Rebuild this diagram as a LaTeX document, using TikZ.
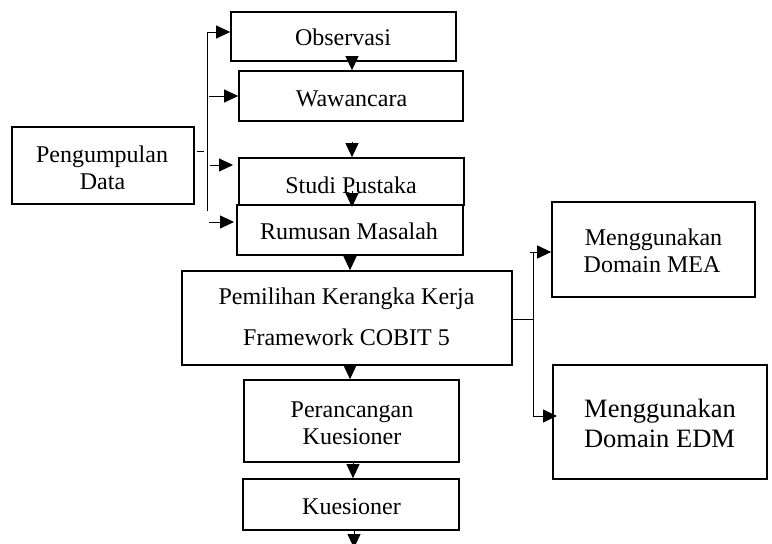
\documentclass[tikz,border=0pt]{standalone}
\usepackage{fontspec}
\setmainfont{Liberation Serif}
\usetikzlibrary{arrows.meta}
\tikzset{
  x=1pt,y=-1pt,
  box/.style={draw,line width=1.7pt,inner sep=0pt,rectangle},
  txt/.style={inner sep=0pt,anchor=base,font=\fontsize{24}{27}\selectfont},
  txtb/.style={inner sep=0pt,anchor=base,font=\fontsize{26.5}{30}\selectfont},
  arr/.style={line width=0.9pt,-{Triangle[width=13pt,length=14pt]}},
  ln/.style={line width=0.9pt}
}
\begin{document}
\begin{tikzpicture}
\useasboundingbox (0,0) rectangle (772,544);
% boxes
\node[box,minimum width=225pt,minimum height=49pt] (obs) at (343.5,36.5) {};
\node[box,minimum width=224pt,minimum height=50pt] (waw) at (351,96) {};
\node[box,minimum width=182pt,minimum height=77pt] (peng) at (103,165.5) {};
\node[box,minimum width=225pt,minimum height=47pt] (studi) at (351.5,181.5) {};
\node[box,minimum width=226pt,minimum height=50pt] (rum) at (350,230) {};
\node[box,minimum width=330pt,minimum height=94pt] (pem) at (347,318) {};
\node[box,minimum width=215pt,minimum height=82pt] (per) at (351.5,421) {};
\node[box,minimum width=216pt,minimum height=51pt] (kue) at (351,504.5) {};
\node[box,minimum width=203pt,minimum height=95pt] (mea) at (653.5,249.5) {};
\node[box,minimum width=214pt,minimum height=114pt] (edm) at (660,422) {};
% texts
\node[txt] (tobs) at (343,45) {Observasi};
\node[txt] (twaw) at (351.5,106) {Wawancara};
\node[txt] (tpeng1) at (102,162) {Pengumpulan};
\node[txt] (tpeng2) at (102.5,189) {Data};
\node[txt] (tstudi) at (351,193) {Studi Pustaka};
\node[txt] (trum) at (349,239) {Rumusan Masalah};
\node[txt] (tpem1) at (346.5,304) {Pemilihan Kerangka Kerja};
\node[txt] (tpem2) at (346.5,345) {Framework COBIT 5};
\node[txt] (tper1) at (352,417) {Perancangan};
\node[txt] (tper2) at (352,444) {Kuesioner};
\node[txt] (tkue) at (351.5,514) {Kuesioner};
\node[txt] (tmea1) at (653.5,245) {Menggunakan};
\node[txt] (tmea2) at (652,272) {Domain MEA};
\node[txtb] (tedm1) at (660,417) {Menggunakan};
\node[txtb] (tedm2) at (659.5,447) {Domain EDM};
% left bracket
\coordinate (bt) at (207,32);
\coordinate (bb) at (207,211);
\draw[ln] (bb) -- (bt);
\draw[arr] (bt) -- (bt -| obs.west);
\coordinate (b2) at (209,96);
\draw[arr] (b2) -- (b2 -| waw.west);
\coordinate (b3) at (210,165);
\draw[arr] (b3) -- (233,165);
\coordinate (b4) at (209,222);
\draw[arr] (b4) -- (234,222);
\coordinate (d1) at (197,151);
\coordinate (d2) at (204,151);
\draw[ln] (d1) -- (d2);
% vertical arrows
\coordinate (v1) at (352,61);
\draw[arr] (v1) -- (v1 |- waw.north);
\coordinate (v2) at (352,142);
\draw[arr] (v2) -- (v2 |- studi.north);
\coordinate (v3) at (352,191);
\coordinate (v3e) at (352,207);
\draw[arr] (v3) -- (v3e);
\coordinate (v4) at (350,255);
\draw[arr] (v4) -- (v4 |- pem.north);
\coordinate (v5) at (350,365);
\draw[arr] (v5) -- (v5 |- per.north);
\coordinate (v6) at (353,462);
\draw[arr] (v6) -- (v6 |- kue.north);
\coordinate (v7) at (354,530);
\coordinate (v7e) at (354,548);
\draw[arr] (v7) -- (v7e);
% right connectors
\coordinate (rj) at (533,319);
\coordinate (rt) at (533,253);
\coordinate (rb) at (533,416);
\draw[ln] (pem.east |- rj) -- (rj);
\draw[ln] (rt) -- (rb);
\coordinate (r1) at (530,252);
\draw[arr] (r1) -- (r1 -| mea.west);
\draw[arr] (rb) -- (557,416);
\end{tikzpicture}
\end{document}
